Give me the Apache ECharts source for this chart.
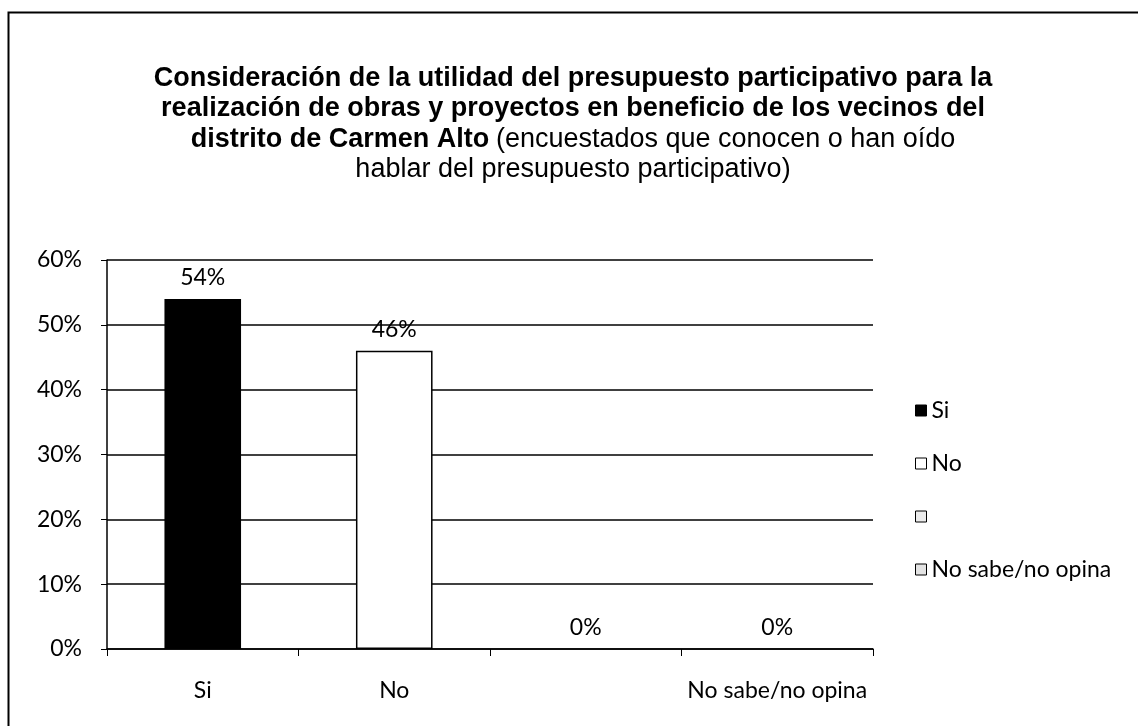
<!DOCTYPE html>
<html>
<head>
<meta charset="utf-8">
<script src="https://cdn.jsdelivr.net/npm/echarts@6/dist/echarts.min.js"></script>
<style>
  html, body { margin: 0; padding: 0; background: #fff; }
  #chart { width: 1138px; height: 726px; }
</style>
</head>
<body>
<div id="chart"></div>
<script>
// datos del gráfico
const categories = ['Si', 'No', ' ', 'No sabe/no opina'];
const values = [54, 46, 0, 0];
const yTicks = [0, 10, 20, 30, 40, 50, 60];
const barColors = ['#000000', '#ffffff', '#ebebeb', '#e3e3e3'];

const chart = echarts.init(document.getElementById('chart'));

// una serie por categoría para tener la leyenda por punto
const series = categories.map(function (name, i) {
  return {
    name: name,
    type: 'bar',
    stack: 'total',
    barWidth: '40%',
    data: values.map(function (v, j) { return j === i ? v : '-'; }),
    itemStyle: {
      color: barColors[i],
      borderColor: '#000',
      borderWidth: (i > 0 && values[i] > 0) ? 1.5 : 0
    },
    label: {
      show: true,
      position: 'top',
      distance: 10,
      fontFamily: 'Lato',
      fontSize: 23,
      color: '#000',
      formatter: function (p) { return p.value + '%'; }
    }
  };
});

const option = {
  animation: false,
  backgroundColor: '#fff',
  graphic: [{
    type: 'rect',
    shape: { x: 8.5, y: 12.5, width: 1200, height: 800 },
    style: { fill: 'none', stroke: '#000', lineWidth: 2 },
    silent: true
  }, {
    type: 'text',
    x: 573,
    y: 63,
    silent: true,
    style: {
      text: '{b|Consideración de la utilidad del presupuesto participativo para la}\n' +
            '{b|realización de obras y proyectos en beneficio de los vecinos del}\n' +
            '{b|distrito de Carmen Alto}  {n|(encuestados que conocen o han oído}\n' +
            '{n|hablar del presupuesto participativo)}',
      align: 'center',
      verticalAlign: 'top',
      rich: {
        b: { fontFamily: 'Liberation Sans', fontWeight: 'bold', fontSize: 27, fill: '#000', lineHeight: 30.5 },
        n: { fontFamily: 'Liberation Sans', fontWeight: 'normal', fontSize: 27, fill: '#000', lineHeight: 30.5 }
      }
    }
  }],
  legend: {
    orient: 'vertical',
    left: 910,
    top: 394,
    itemGap: 30,
    itemWidth: 11,
    itemHeight: 11,
    icon: 'rect',
    textStyle: { fontFamily: 'Lato', fontSize: 23, color: '#000' },
    data: categories.map(function (name, i) {
      return {
        name: name,
        itemStyle: { color: barColors[i], borderColor: '#000', borderWidth: 1 }
      };
    })
  },
  grid: { left: 107, right: 265, top: 260, bottom: 77 },
  xAxis: {
    type: 'category',
    data: categories,
    axisLine: { lineStyle: { color: '#000', width: 1.5 } },
    axisTick: { show: true, interval: 0, length: 7, lineStyle: { color: '#000' } },
    axisLabel: { interval: 0, margin: 30, fontFamily: 'Lato', fontSize: 23, color: '#000' }
  },
  yAxis: {
    type: 'value',
    min: yTicks[0],
    max: yTicks[yTicks.length - 1],
    interval: 10,
    axisLine: { show: true, lineStyle: { color: '#000', width: 1.5 } },
    axisTick: { show: true, length: 6, lineStyle: { color: '#000' } },
    axisLabel: {
      fontFamily: 'Lato',
      fontSize: 23,
      color: '#000',
      margin: 25,
      formatter: '{value}%'
    },
    splitLine: { show: true, lineStyle: { color: '#000', width: 1.5 } }
  },
  series: series
};

chart.setOption(option);
</script>
</body>
</html>
